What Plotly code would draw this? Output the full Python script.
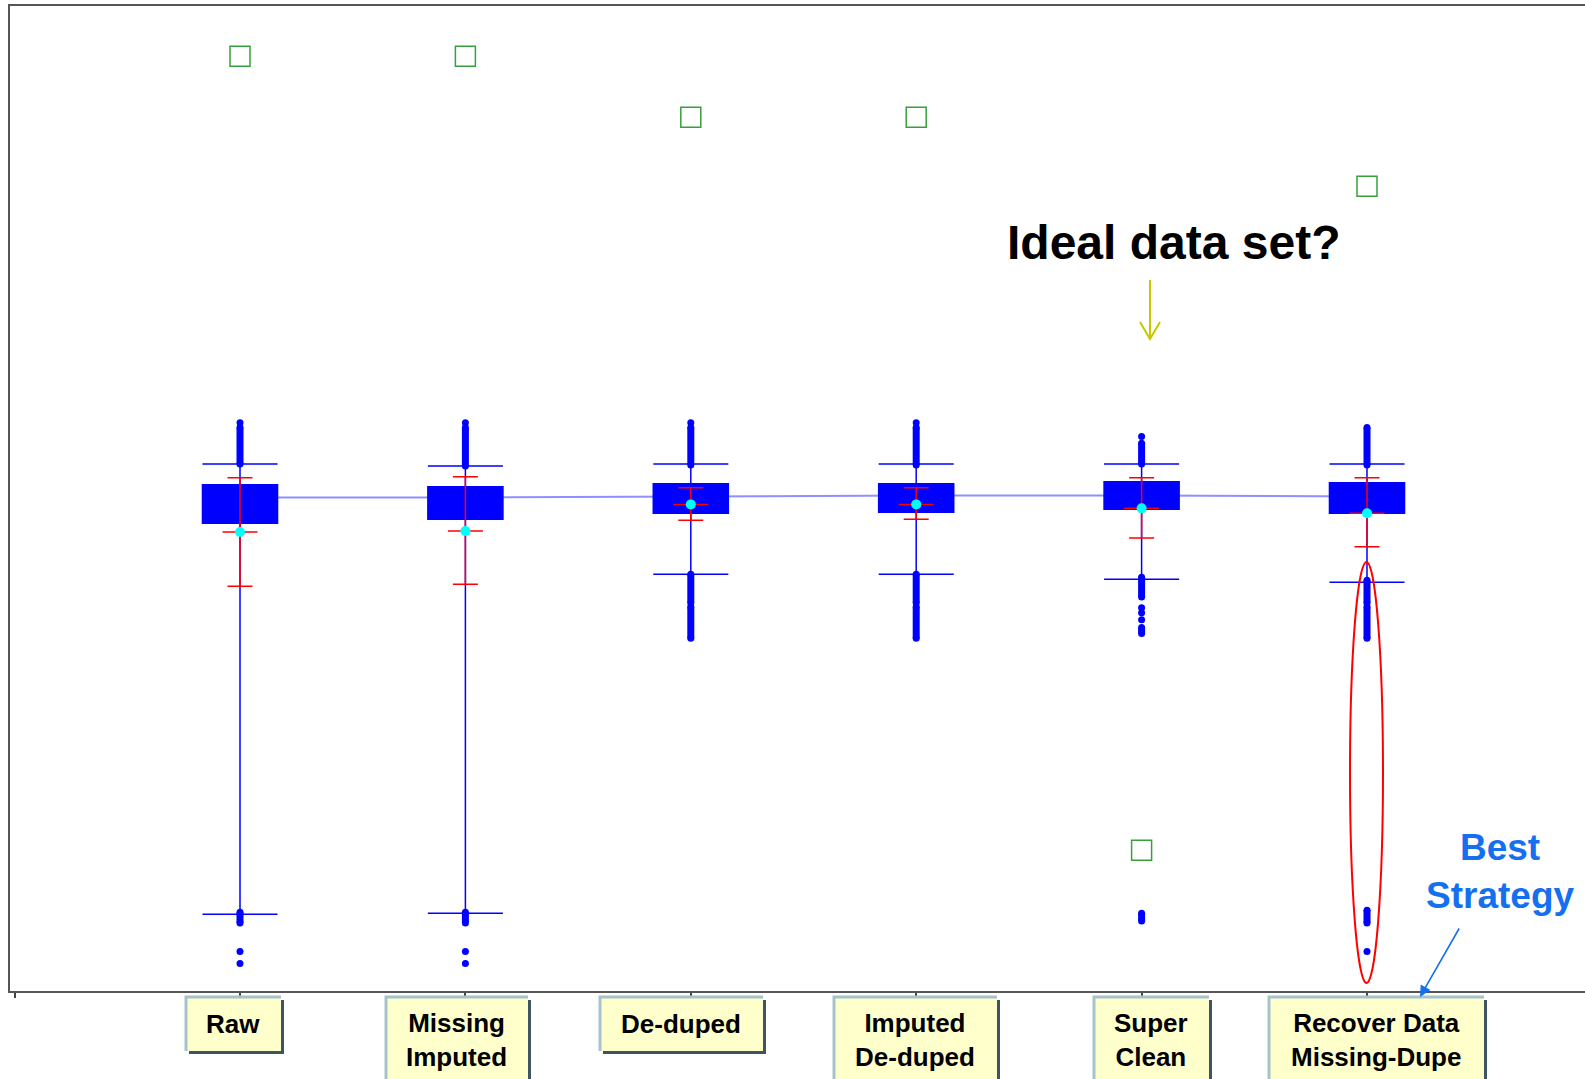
import plotly.graph_objects as go

# --- data (value scale 0..100, no visible axis) ---
POS = [1, 2, 3, 4, 5, 6]
LABELS = ["Raw", "Missing<br>Imputed", "De-duped", "Imputed<br>De-duped",
          "Super<br>Clean", "Recover Data<br>Missing-Dupe"]

Q1 = [47.5, 47.9, 48.5, 48.6, 48.9, 48.5]
Q3 = [51.4, 51.2, 51.5, 51.5, 51.7, 51.6]
MEDIAN = [50.1, 50.1, 50.2, 50.3, 50.3, 50.2]
LOWER_FENCE = [7.8, 7.9, 42.3, 42.3, 41.8, 41.5]
UPPER_FENCE = [53.5, 53.3, 53.5, 53.5, 53.5, 53.5]

MEAN = [46.6, 46.7, 49.4, 49.4, 49.0, 48.5]
CI_HIGH = [52.1, 52.2, 51.1, 51.1, 52.1, 52.1]
CI_LOW = [41.1, 41.3, 47.8, 47.9, 46.0, 45.1]

MAX_MARK = [94.9, 94.9, 88.7, 88.7, 14.3, 81.7]

# dense runs of overlapping outliers
RUN_POS = [1, 1, 2, 2, 3, 3, 3, 4, 4, 4, 5, 5, 5, 5, 6, 6, 6, 6]
RUN_LO = [53.5, 6.9, 53.3, 6.9, 53.4, 39.4, 35.8, 53.4, 39.4, 35.8, 53.5, 40.0, 36.3, 7.1, 53.4, 39.4, 35.8, 6.9]
RUN_HI = [57.2, 8.0, 57.2, 8.0, 57.2, 42.3, 39.0, 57.2, 42.3, 39.0, 55.6, 42.0, 36.9, 7.9, 57.2, 41.7, 39.0, 8.2]

# single outliers
DOT_POS = [1, 1, 1, 2, 2, 2, 3, 4, 5, 5, 5, 5, 6]
DOT_Y = [57.7, 4.0, 2.8, 57.7, 4.0, 2.8, 57.7, 57.7, 56.3, 38.9, 38.4, 37.7, 4.0]

BLUE = "#0000ff"
RED = "#ff0000"
CYAN = "#00ffff"
GREEN = "#36a03c"
LINK = "#8f8fff"
HILITE = "#1570ef"
FONT = "Liberation Sans, Arial, sans-serif"

W, H = 1585, 1079
M_L, M_T, M_B = 10, 6, 88
STEP = 225.4   # px between categories
X0_PX = 14.6   # px of position 0


def xp(px):
    return (px - M_L) / (W - M_L)


def yp(py):
    return (H - M_B - py) / (H - M_B - M_T)


fig = go.Figure()

# line joining the medians, on the base axes so boxes cover it
fig.add_trace(go.Scatter(x=POS, y=MEDIAN, mode="lines",
                         line=dict(color=LINK, width=2), hoverinfo="skip"))

fig.add_trace(go.Box(
    x=POS, q1=Q1, median=MEDIAN, q3=Q3,
    lowerfence=LOWER_FENCE, upperfence=UPPER_FENCE,
    width=0.333, whiskerwidth=1, boxpoints=False,
    fillcolor=BLUE, line=dict(color=BLUE, width=1.5),
    xaxis="x2", yaxis="y2",
))

fig.add_trace(go.Scatter(
    x=POS, y=MEAN, mode="markers",
    marker=dict(symbol="line-ew", size=25, line=dict(color=RED, width=1.5)),
    error_y=dict(type="data", symmetric=False,
                 array=[h - m for h, m in zip(CI_HIGH, MEAN)],
                 arrayminus=[m - l for m, l in zip(MEAN, CI_LOW)],
                 color=RED, thickness=1.5, width=12.5),
    xaxis="x2", yaxis="y2",
))

rx, ry = [], []
for p, lo, hi in zip(RUN_POS, RUN_LO, RUN_HI):
    rx += [p, p, None]
    ry += [lo, hi, None]
fig.add_trace(go.Scatter(x=rx, y=ry, mode="lines+markers",
                         line=dict(color=BLUE, width=7),
                         marker=dict(color=BLUE, size=7),
                         xaxis="x2", yaxis="y2"))

fig.add_trace(go.Scatter(x=DOT_POS, y=DOT_Y, mode="markers",
                         marker=dict(color=BLUE, size=7),
                         xaxis="x2", yaxis="y2"))

fig.add_trace(go.Scatter(x=POS, y=MEAN, mode="markers",
                         marker=dict(color=CYAN, size=10),
                         xaxis="x2", yaxis="y2"))

fig.add_trace(go.Scatter(x=POS, y=MAX_MARK, mode="markers",
                         marker=dict(symbol="square-open", size=20,
                                     color=GREEN, line=dict(color=GREEN, width=1.5)),
                         xaxis="x2", yaxis="y2"))

shapes = []
annotations = []

# category label boxes with a bevel look
box_px = [(185, 281), (385, 528), (599, 763), (833, 997), (1093, 1209), (1268, 1484)]
for (x0, x1), text in zip(box_px, LABELS):
    two = "<br>" in text
    y0, y1 = 996, (1095 if two else 1051)
    shapes.append(dict(type="rect", xref="paper", yref="paper",
                       x0=xp(x0 + 4), x1=xp(x1 + 3), y0=yp(y1 + 3), y1=yp(y0 + 4),
                       fillcolor="#3d5563", line=dict(width=0)))
    shapes.append(dict(type="rect", xref="paper", yref="paper",
                       x0=xp(x0), x1=xp(x1), y0=yp(y1), y1=yp(y0),
                       fillcolor="#ffffcc", line=dict(width=0)))
    shapes.append(dict(type="path", xref="paper", yref="paper",
                       path=f"M {xp(x0 + 1)} {yp(y1)} L {xp(x0 + 1)} {yp(y0 + 1)} L {xp(x1)} {yp(y0 + 1)}",
                       line=dict(color="#a6c3cc", width=3)))
    annotations.append(dict(xref="paper", yref="paper",
                            x=xp((x0 + x1) / 2), y=yp(1040 if two else 1024),
                            text=f"<b>{text}</b>", showarrow=False,
                            xanchor="center", yanchor="middle",
                            font=dict(family=FONT, size=26, color="black")))

annotations.append(dict(xref="paper", yref="paper", x=xp(1173), y=yp(243),
                        text="<b>Ideal data set?</b>", showarrow=False,
                        xanchor="center", yanchor="middle",
                        font=dict(family=FONT, size=48, color="black")))
shapes.append(dict(type="path", xref="paper", yref="paper",
                   path=(f"M {xp(1150)} {yp(280)} L {xp(1150)} {yp(339)} "
                         f"M {xp(1140)} {yp(322)} L {xp(1150)} {yp(339)} L {xp(1160)} {yp(322)}"),
                   line=dict(color="#c8c800", width=2)))

annotations.append(dict(xref="paper", yref="paper", x=xp(1500), y=yp(871),
                        text="<b>Best<br>Strategy</b>", showarrow=False,
                        xanchor="center", yanchor="middle",
                        font=dict(family=FONT, size=37, color=HILITE)))
annotations.append(dict(xref="paper", yref="paper", x=xp(1420), y=yp(997),
                        ax=40, ay=-70, text="", showarrow=True,
                        arrowhead=2, arrowsize=1.4, arrowwidth=1.6, arrowcolor=HILITE))

shapes.append(dict(type="circle", xref="paper", yref="paper",
                   x0=xp(1350), x1=xp(1383), y0=yp(983), y1=yp(562),
                   line=dict(color=RED, width=2)))

x_range = [(M_L - X0_PX) / STEP, (W - X0_PX) / STEP]
fig.update_layout(
    width=W, height=H,
    margin=dict(l=M_L, r=0, t=M_T, b=M_B),
    paper_bgcolor="white", plot_bgcolor="white",
    showlegend=False,
    xaxis=dict(range=x_range, tickvals=[0, 1, 2, 3, 4, 5, 6], showticklabels=False,
               ticks="outside", ticklen=5, tickwidth=1.5, tickcolor="#444",
               showline=True, linecolor="#555", linewidth=2, mirror=True,
               showgrid=False, zeroline=False),
    yaxis=dict(range=[0, 100], showticklabels=False, ticks="",
               showline=True, linecolor="#555", linewidth=2,
               showgrid=False, zeroline=False),
    xaxis2=dict(range=x_range, overlaying="x", visible=False),
    yaxis2=dict(range=[0, 100], overlaying="y", visible=False),
    shapes=shapes,
    annotations=annotations,
)

# page body margin would push the figure off by 8px
fig.write_html("out.html", config={"displayModeBar": False},
               post_script="document.body.style.margin='0';")
